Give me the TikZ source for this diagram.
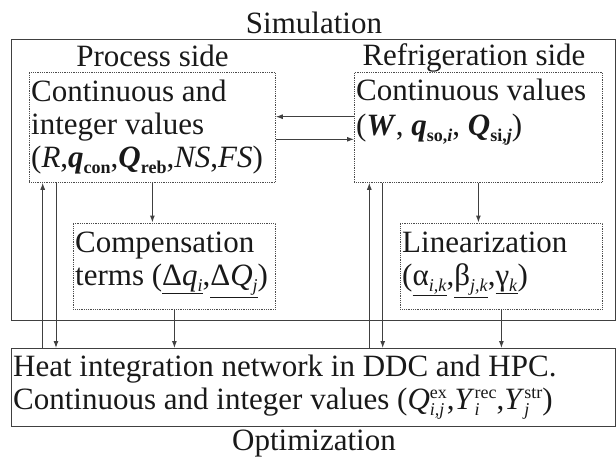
\documentclass[tikz,border=0pt]{standalone}
\usepackage{fontspec}
\setmainfont{Liberation Serif}
\usetikzlibrary{arrows.meta}
\newcommand\ssub[1]{\raisebox{-6.5pt}{\fontsize{18}{18}\selectfont #1}}
\newcommand\supsub[2]{\raisebox{-6.5pt}{\vbox{\fontsize{18}{17.5}\selectfont\hbox{#1}\hbox{#2}}}}
\newcommand\bi[1]{\textbf{\textit{#1}}}
\begin{document}
\begin{tikzpicture}[x=1pt,y=-1pt,
  every node/.style={font=\fontsize{31}{33}\selectfont, text=black!90, inner sep=0pt},
  outerbox/.style={draw=black!75, line width=1pt, anchor=north west},
  dotbox/.style={draw=black!70, densely dotted, line width=0.8pt, anchor=north west},
  txt/.style={anchor=base west},
  ttl/.style={anchor=base},
  arr/.style={draw=black!75, line width=1pt, -{Latex[length=7pt,width=5pt]}}]
\useasboundingbox (0,0) rectangle (616,458);
% boxes
\node[outerbox, minimum width=604pt, minimum height=281pt] (sim) at (11,39) {};
\node[outerbox, minimum width=604pt, minimum height=78pt] (hin) at (11,348) {};
\node[dotbox, minimum width=246pt, minimum height=110pt] (pbox) at (29,72) {};
\node[dotbox, minimum width=248pt, minimum height=110pt] (rbox) at (354,72) {};
\node[dotbox, minimum width=202pt, minimum height=86pt] (cbox) at (73,222.5) {};
\node[dotbox, minimum width=202pt, minimum height=86pt] (lbox) at (400,222.5) {};
% titles
\node[ttl] (tsim) at (314,33) {Simulation};
\node[ttl] (tproc) at (152.5,66) {Process side};
\node[ttl] (tref) at (474,65) {Refrigeration side};
\node[ttl] (topt) at (314,450) {Optimization};
% process text
\node[txt] (p1) at (31,101) {Continuous and};
\node[txt] (p2) at (31,134) {integer values};
\node[txt] (p3) at (31,167) {(\textit{R},\bi{q}\ssub{\textbf{con}},\bi{Q}\ssub{\textbf{reb}},\textit{NS},\textit{FS})};
% refrigeration text
\node[txt] (r1) at (356,100) {Continuous values};
\node[txt] (r2) at (356,135) {(\bi{W}, \bi{q}\ssub{\textbf{so,\textit{i}}}, \bi{Q}\ssub{\textbf{si,\textit{j}}})};
% compensation text
\node[txt] (c1) at (75,252) {Compensation};
\node[txt] (c2) at (75,285) {terms (\underline{Δ\textit{q}\ssub{\textit{i}}},\underline{Δ\textit{Q}\ssub{\textit{j}}})};
% linearization text
\node[txt] (l1) at (402,252) {Linearization};
\node[txt] (l2) at (402,285) {(\underline{α\ssub{\textit{i,k}}},\underline{β\ssub{\textit{j,k}}},\underline{γ\ssub{\textit{k}}})};
% heat integration text
\node[txt] (h1) at (13,376) {Heat integration network in DDC and HPC.};
\node[txt] (h2) at (13,409) {Continuous and integer values (\textit{Q}\supsub{ex}{\textit{i,j}},\textit{Y}\supsub{rec}{\textit{i}},\textit{Y}\supsub{str}{\textit{j}})};
% helper coordinates
\coordinate (yA) at (0,116.7);
\coordinate (yB) at (0,139.3);
\coordinate (xL1) at (42.7,0);
\coordinate (xL2) at (56,0);
\coordinate (xR1) at (369.3,0);
\coordinate (xR2) at (382.7,0);
% connectors
\draw[arr] (rbox.west |- yA) -- (pbox.east |- yA);
\draw[arr] (pbox.east |- yB) -- (rbox.west |- yB);
\draw[arr] (pbox.south) -- (cbox.north -| pbox.south);
\draw[arr] (rbox.south) -- (lbox.north -| rbox.south);
\draw[arr] (cbox.south) -- (hin.north -| cbox.south);
\draw[arr] (lbox.south) -- (hin.north -| lbox.south);
\draw[arr] (hin.north -| xL1) -- (pbox.south -| xL1);
\draw[arr] (pbox.south -| xL2) -- (hin.north -| xL2);
\draw[arr] (hin.north -| xR1) -- (rbox.south -| xR1);
\draw[arr] (rbox.south -| xR2) -- (hin.north -| xR2);
\end{tikzpicture}
\end{document}
